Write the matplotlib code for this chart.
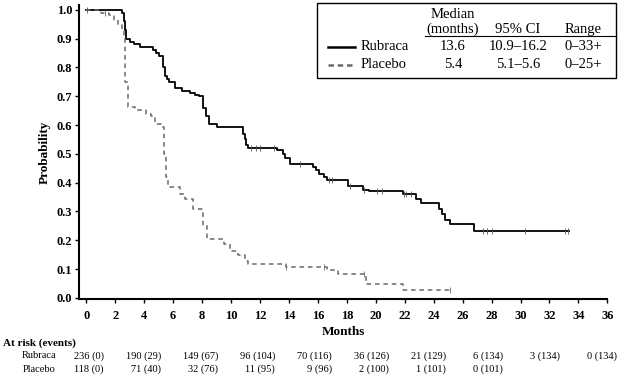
import numpy as np
import matplotlib
matplotlib.use('Agg')
import matplotlib.pyplot as plt
from matplotlib.patches import Rectangle
from matplotlib.lines import Line2D

plt.rcParams['font.family'] = ['Liberation Serif', 'DejaVu Serif']

# 生存曲线数据 (月, 概率)
rub_t = [0, 2.45, 2.6, 2.68, 2.75, 3.0, 3.3, 3.7, 4.6, 4.8, 5.0, 5.3, 5.45, 5.55, 5.75,
         6.1, 6.6, 7.15, 7.5, 7.8, 8.1, 8.25, 8.5, 9.0, 10.85, 10.95, 11.05, 11.15, 13.2, 13.6,
         13.75, 14.05, 15.65, 15.9, 16.1, 16.4, 16.6, 18.1, 19.1, 19.5, 21.9, 22.8, 23.1, 24.4, 24.6,
         24.8, 25.1, 26.8, 33.35]
rub_s = [1.0, 0.99, 0.96, 0.93, 0.90, 0.89, 0.88, 0.87, 0.86, 0.85, 0.84, 0.80, 0.77, 0.76, 0.75,
         0.73, 0.72, 0.71, 0.705, 0.70, 0.66, 0.63, 0.605, 0.593, 0.57, 0.55, 0.53, 0.52, 0.515, 0.50,
         0.485, 0.466, 0.455, 0.443, 0.43, 0.42, 0.408, 0.39, 0.375, 0.37, 0.36, 0.345, 0.33, 0.31, 0.29,
         0.27, 0.257, 0.231, 0.231]
rub_cens = [0.05, 11.4, 11.75, 12.0, 13.0, 14.75, 16.8, 17.0, 18.2, 19.2, 20.1, 20.4, 21.95, 22.1,
            22.4, 27.4, 27.65, 28.05, 30.3, 33.1, 33.3]

pla_t = [0, 1.05, 1.6, 1.95, 2.2, 2.45, 2.6, 2.7, 2.9, 3.35, 4.15, 4.5, 4.75, 5.2, 5.35,
         5.5, 5.65, 6.45, 6.8, 7.4, 8.1, 8.35, 9.55, 9.9, 10.5, 10.95, 11.2, 13.8, 16.6, 17.4,
         19.35, 21.85, 25.15]
pla_s = [1.0, 0.99, 0.983, 0.965, 0.948, 0.93, 0.91, 0.75, 0.663, 0.652, 0.64, 0.63, 0.605, 0.593, 0.50,
         0.42, 0.384, 0.36, 0.344, 0.309, 0.25, 0.204, 0.187, 0.161, 0.15, 0.129, 0.117, 0.108, 0.096, 0.082,
         0.048, 0.027, 0.027]
pla_cens = [1.3, 13.8, 16.4, 19.2, 25.15]

# 风险人数表
risk_months = [0, 4, 8, 12, 16, 20, 24, 28, 32, 36]
rub_risk = ['236 (0)', '190 (29)', '149 (67)', '96 (104)', '70 (116)', '36 (126)',
            '21 (129)', '6 (134)', '3 (134)', '0 (134)']
pla_risk = ['118 (0)', '71 (40)', '32 (76)', '11 (95)', '9 (96)', '2 (100)',
            '1 (101)', '0 (101)']

# 图例表格
legend_names = ['Rubraca', 'Placebo']
legend_median = ['13.6', '5.4']
legend_ci = ['10.9\u201316.2', '5.1\u20135.6']
legend_range = ['0\u201333+', '0\u201325+']

W, H = 621, 377
fig = plt.figure(figsize=(W / 100, H / 100), dpi=100)
ax = fig.add_axes([79 / W, 1 - 299 / H, 528.4 / W, 294 / H])


def px(x, y):
    return x / W, 1 - y / H


def surv_at(t, s, x):
    i = np.searchsorted(t, x, side='right') - 1
    return np.array(s)[i]


pla_style = dict(color='#6a6a6a', lw=1.1, ls=(0, (3, 2.5)))
ax.step(rub_t, rub_s, where='post', color='black', lw=1.3)
ax.step(pla_t, pla_s, where='post', **pla_style)
ax.plot(rub_cens, surv_at(rub_t, rub_s, rub_cens), ls='none', marker='|',
        ms=5, mew=0.6, color='#555555')
ax.plot(pla_cens, surv_at(pla_t, pla_s, pla_cens), ls='none', marker='|',
        ms=5, mew=0.6, color='#6a6a6a')

ax.set_xlim(-0.5, 36)
ax.set_ylim(-0.004, 1.017)
ax.set_xticks(np.arange(0, 37, 2))
ax.set_yticks(np.arange(0, 1.01, 0.1))
ax.set_yticklabels(['%.1f' % v for v in np.arange(0, 1.01, 0.1)])
for lab in ax.get_xticklabels() + ax.get_yticklabels():
    lab.set_fontweight('bold')
    lab.set_fontsize(9)
ax.tick_params(length=3, width=1)
ax.tick_params(axis='x', pad=5)
ax.tick_params(axis='y', pad=2)
ax.spines['top'].set_visible(False)
ax.spines['right'].set_visible(False)
ax.spines['left'].set_linewidth(1.5)
ax.spines['bottom'].set_linewidth(1.5)
ax.set_xlabel('Months', fontweight='bold', fontsize=9.5, labelpad=3)
ax.set_ylabel('Probability', fontweight='bold', fontsize=9.5, labelpad=4)

# 图例框
box = Rectangle(px(316.7, 77.7), (616 - 316.7) / W, (77.7 - 3.3) / H,
                transform=fig.transFigure, fill=False, lw=1.0, ec='black')
fig.patches.append(box)
fig.add_artist(Line2D([425 / W, 616 / W], [1 - 36 / H] * 2, color='black', lw=0.8))
fs = 10.5
fig.text(*px(453, 15), 'Median', ha='center', va='center', fontsize=fs)
fig.text(*px(453, 29.5), '(months)', ha='center', va='center', fontsize=fs)
fig.text(*px(518, 29.5), '95% CI', ha='center', va='center', fontsize=fs)
fig.text(*px(583, 29.5), 'Range', ha='center', va='center', fontsize=fs)
row_y = [46.7, 65]
for i in range(2):
    y = row_y[i]
    style = dict(color='black', lw=1.8) if i == 0 else dict(color='#6a6a6a', lw=1.8, ls=(0, (2.2, 1.5)))
    fig.add_artist(Line2D([328 / W, 355 / W], [1 - y / H] * 2, **style))
    fig.text(*px(361, y), legend_names[i], ha='left', va='center', fontsize=fs)
    fig.text(*px(453, y), legend_median[i], ha='center', va='center', fontsize=fs)
    fig.text(*px(518, y), legend_ci[i], ha='center', va='center', fontsize=fs)
    fig.text(*px(583, y), legend_range[i], ha='center', va='center', fontsize=fs)

# 风险表
fig.text(*px(3, 343.5), 'At risk (events)', ha='left', va='center', fontsize=8, fontweight='bold')
fig.text(*px(39, 356), 'Rubraca', ha='center', va='center', fontsize=7.5)
fig.text(*px(39, 369), 'Placebo', ha='center', va='center', fontsize=7.5)
for i, m in enumerate(risk_months):
    x = 104 + m / 4 * 57.03
    fig.text(*px(x, 356), rub_risk[i], ha='right', va='center', fontsize=7.5)
    if i < len(pla_risk):
        fig.text(*px(x, 369), pla_risk[i], ha='right', va='center', fontsize=7.5)

fig.savefig('out.png', dpi=100)
